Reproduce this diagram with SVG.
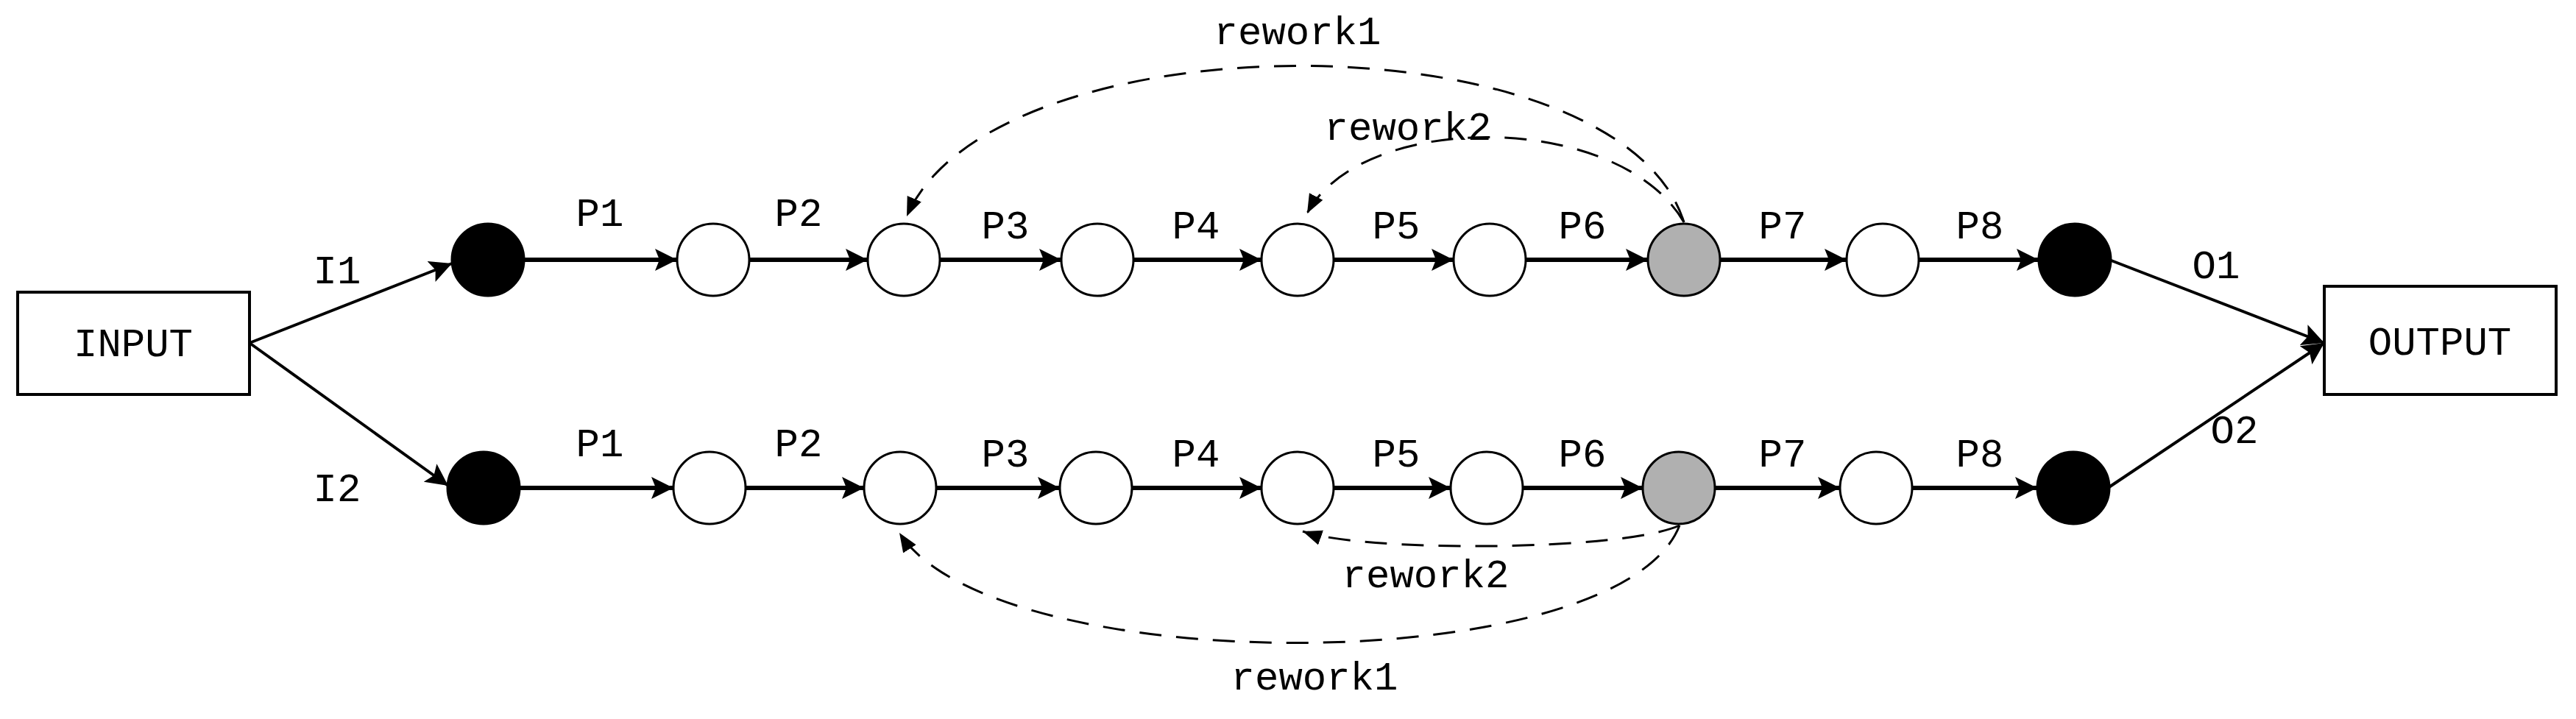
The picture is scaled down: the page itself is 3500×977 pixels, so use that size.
<svg xmlns="http://www.w3.org/2000/svg" width="3500" height="977" viewBox="0 0 3500 977">
<style>
text{font-family:"Liberation Mono","DejaVu Sans Mono",monospace;font-size:54px;fill:#000;text-anchor:middle}
.n{stroke:#000;stroke-width:3;fill:#fff}
.b{fill:#000}
.g{fill:#b0b0b0}
.box{fill:#fff;stroke:#000;stroke-width:4}
.a{stroke:#000;stroke-width:6;fill:none;marker-end:url(#ah)}
.t{stroke:#000;stroke-width:4;fill:none;marker-end:url(#ah)}
.d{stroke:#000;stroke-width:3;fill:none;stroke-dasharray:30 20;marker-end:url(#ah2)}
</style>
<defs>
<marker id="ah" viewBox="0 0 10 10" refX="10" refY="5" markerWidth="30" markerHeight="30" markerUnits="userSpaceOnUse" orient="auto"><path d="M0,0 L10,5 L0,10 L2,5 z"/></marker>
<marker id="ah2" viewBox="0 0 10 10" refX="10" refY="5" markerWidth="26" markerHeight="26" markerUnits="userSpaceOnUse" orient="auto"><path d="M0,1 L10,5 L0,9 z"/></marker>
</defs>
<g id="connectors">
<line class="t" x1="339" y1="466" x2="614" y2="358"/>
<line class="t" x1="339" y1="466" x2="609" y2="660"/>
<line class="a" x1="712" y1="353" x2="920" y2="353"/>
<line class="a" x1="1018" y1="353" x2="1179" y2="353"/>
<line class="a" x1="1277" y1="353" x2="1442" y2="353"/>
<line class="a" x1="1540" y1="353" x2="1714" y2="353"/>
<line class="a" x1="1812" y1="353" x2="1975" y2="353"/>
<line class="a" x1="2073" y1="353" x2="2239" y2="353"/>
<line class="a" x1="2337" y1="353" x2="2509" y2="353"/>
<line class="a" x1="2607" y1="353" x2="2770" y2="353"/>
<line class="a" x1="706" y1="663" x2="915" y2="663"/>
<line class="a" x1="1013" y1="663" x2="1174" y2="663"/>
<line class="a" x1="1272" y1="663" x2="1440" y2="663"/>
<line class="a" x1="1538" y1="663" x2="1714" y2="663"/>
<line class="a" x1="1812" y1="663" x2="1971" y2="663"/>
<line class="a" x1="2069" y1="663" x2="2232" y2="663"/>
<line class="a" x1="2330" y1="663" x2="2500" y2="663"/>
<line class="a" x1="2598" y1="663" x2="2768" y2="663"/>
<line class="t" x1="2866" y1="353" x2="3158" y2="466"/>
<line class="t" x1="2864" y1="663" x2="3158" y2="466"/>
<path class="d" d="M2288,302 C2200,20 1350,20 1232,294"/>
<path class="d" d="M2288,302 C2200,150 1850,150 1776,290"/>
<path class="d" d="M2282,714 C2200,750 1850,750 1770,722"/>
<path class="d" d="M2282,714 C2200,925 1350,925 1222,724"/>
</g>
<g id="input"><rect class="box" x="24" y="397" width="315" height="139"/><text x="181" y="484">INPUT</text></g>
<g id="output"><rect class="box" x="3158" y="389" width="315" height="147"/><text x="3315" y="482">OUTPUT</text></g>
<g id="r1n0"><ellipse class="n b" cx="663" cy="353" rx="49" ry="49"/></g>
<g id="r1n1"><ellipse class="n" cx="969" cy="353" rx="49" ry="49"/></g>
<g id="r1n2"><ellipse class="n" cx="1228" cy="353" rx="49" ry="49"/></g>
<g id="r1n3"><ellipse class="n" cx="1491" cy="353" rx="49" ry="49"/></g>
<g id="r1n4"><ellipse class="n" cx="1763" cy="353" rx="49" ry="49"/></g>
<g id="r1n5"><ellipse class="n" cx="2024" cy="353" rx="49" ry="49"/></g>
<g id="r1n6"><ellipse class="n g" cx="2288" cy="353" rx="49" ry="49"/></g>
<g id="r1n7"><ellipse class="n" cx="2558" cy="353" rx="49" ry="49"/></g>
<g id="r1n8"><ellipse class="n b" cx="2819" cy="353" rx="49" ry="49"/></g>
<g id="r2n0"><ellipse class="n b" cx="657" cy="663" rx="49" ry="49"/></g>
<g id="r2n1"><ellipse class="n" cx="964" cy="663" rx="49" ry="49"/></g>
<g id="r2n2"><ellipse class="n" cx="1223" cy="663" rx="49" ry="49"/></g>
<g id="r2n3"><ellipse class="n" cx="1489" cy="663" rx="49" ry="49"/></g>
<g id="r2n4"><ellipse class="n" cx="1763" cy="663" rx="49" ry="49"/></g>
<g id="r2n5"><ellipse class="n" cx="2020" cy="663" rx="49" ry="49"/></g>
<g id="r2n6"><ellipse class="n g" cx="2281" cy="663" rx="49" ry="49"/></g>
<g id="r2n7"><ellipse class="n" cx="2549" cy="663" rx="49" ry="49"/></g>
<g id="r2n8"><ellipse class="n b" cx="2817" cy="663" rx="49" ry="49"/></g>
<g id="labels">
<text x="458" y="385">I1</text><text x="458" y="681">I2</text>
<text x="815" y="307">P1</text><text x="1085" y="307">P2</text><text x="1366" y="324">P3</text><text x="1625" y="324">P4</text><text x="1897" y="324">P5</text><text x="2150" y="324">P6</text><text x="2422" y="324">P7</text><text x="2690" y="324">P8</text>
<text x="815" y="620">P1</text><text x="1085" y="620">P2</text><text x="1366" y="634">P3</text><text x="1625" y="634">P4</text><text x="1897" y="634">P5</text><text x="2150" y="634">P6</text><text x="2422" y="634">P7</text><text x="2690" y="634">P8</text>
<text x="3011" y="378">O1</text><text x="3036" y="602">O2</text>
<text x="1763" y="60">rework1</text><text x="1913" y="190">rework2</text>
<text x="1937" y="798">rework2</text><text x="1786" y="937">rework1</text>
</g>
</svg>
